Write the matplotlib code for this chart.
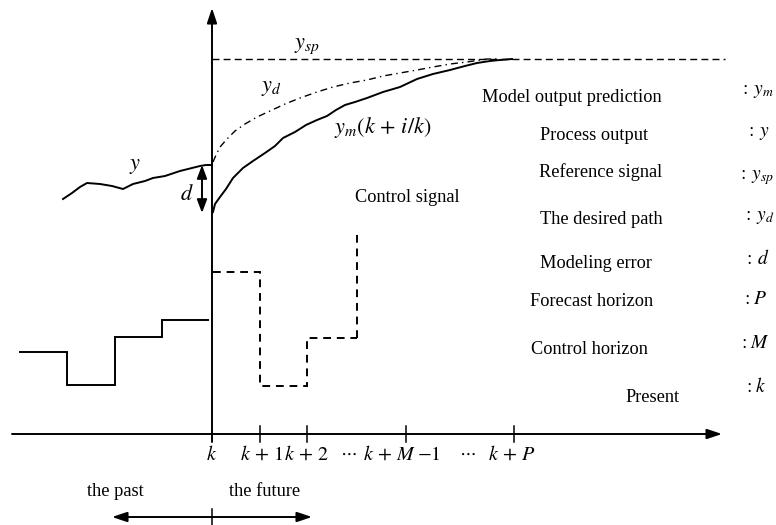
import matplotlib
matplotlib.use("Agg")
import matplotlib.pyplot as plt

plt.rcParams["font.family"] = ["Liberation Serif", "DejaVu Serif"]
plt.rcParams["mathtext.fontset"] = "stix"

# ---- time axis (k = present instant) ----
k_pos = 212
axis_y = 434
tick_x = [212, 260, 307, 406, 514]
tick_labels = [r"$k$", r"$k\,+\,1$", r"$k\,+\,2$", r"$k\,+\,M\;{-}1$", r"$k\,+\,P$"]
tick_label_x = [212, 262, 306, 402, 512]
ellipsis_x = [348, 467]

# ---- past process output y ----
past_x = [63, 72, 80, 87, 100, 112, 123, 133, 145, 153, 165, 180, 192, 200, 206, 212]
past_y = [199, 193, 187, 183, 184, 186, 189, 184, 181, 178, 176, 171, 168, 166, 165, 165]

# ---- predicted model output y_m(k+i/k) ----
ym_x = [213, 215, 220, 226, 233, 243, 253, 265, 275, 283, 295, 306, 317, 327, 336,
        345, 355, 367, 383, 400, 417, 433, 450, 465, 477, 490, 500, 512]
ym_y = [212, 204, 197, 189, 178, 168, 161, 153, 146, 138, 132, 125, 120, 116, 110,
        105, 102, 98, 92, 87, 79, 74, 70, 66, 63, 61, 60, 59]

# ---- desired path y_d ----
yd_x = [213, 216, 220, 227, 235, 245, 257, 270, 285, 300, 317, 333, 350, 367, 383,
        400, 417, 433, 450, 467, 487, 500]
yd_y = [162, 155, 147, 139, 131, 124, 117, 111, 104, 98, 92, 87, 83, 80, 76,
        73, 70, 67, 64, 62, 59, 59]

# ---- set point y_sp ----
ysp_level = 59
ysp_end = 725

# ---- modelling error d ----
d_x = 202
d_top, d_bottom = 165, 213

# ---- control signal: past (applied) and future (planned) moves ----
past_u_edges = [19, 67, 115, 162, 209]
past_u = [352, 385, 337, 320]
future_u_edges = [213, 260, 307, 357]
future_u = [272, 386, 338]
future_u_last = 233

# ---- legend of symbols ----
legend_names = ["Model output prediction", "Process output", "Reference signal",
                "The desired path", "Modeling error", "Forecast horizon",
                "Control horizon", "Present"]
legend_name_x = [572, 594, 601, 601, 596, 592, 589, 652]
legend_name_y = [97, 135, 172, 220, 263, 302, 350, 398]
legend_syms = [r"${:}\,y_m$", r"${:}\,y$", r"${:}\,y_{sp}$", r"${:}\,y_d$", r"${:}\,d$",
               r"${:}P$", r"${:}M$", r"${:}k$"]
legend_sym_right = [774, 770, 774, 774, 770, 767, 769, 766]
legend_sym_y = [92, 134, 178, 218, 258, 299, 344, 387]

fig = plt.figure(figsize=(7.76, 5.25), dpi=100)
ax = fig.add_axes([0, 0, 1, 1])
ax.set_xlim(0, 776)
ax.set_ylim(525, 0)
ax.axis("off")

lw = 1.4
arrow_kw = dict(arrowstyle="-|>,head_length=0.9,head_width=0.3", lw=lw, color="k",
                shrinkA=0, shrinkB=0)

# axes
ax.annotate("", xy=(722, axis_y), xytext=(12, axis_y), arrowprops=arrow_kw)
ax.annotate("", xy=(k_pos, 8), xytext=(k_pos, axis_y + 8), arrowprops=arrow_kw)
for tx in tick_x[1:]:
    ax.plot([tx, tx], [axis_y - 8, axis_y + 8], color="k", lw=1.1)
for lx, lab in zip(tick_label_x, tick_labels):
    ax.text(lx, 455, lab, ha="center", va="center", fontsize=14.5)
for ex in ellipsis_x:
    ax.text(ex, 453, r"$\cdots$", ha="center", va="center", fontsize=13)

# curves
ax.plot(past_x, past_y, color="k", lw=lw)
ax.plot(ym_x, ym_y, color="k", lw=lw)
ax.plot(yd_x, yd_y, color="k", lw=1.0, linestyle=(0, (5, 3, 1, 3)))
ax.plot([k_pos, ysp_end], [ysp_level, ysp_level], color="k", lw=1.0,
        linestyle=(0, (5, 3)))

# modelling error arrow
ax.annotate("", xy=(d_x, d_top), xytext=(d_x, d_bottom),
            arrowprops=dict(arrowstyle="<|-|>,head_length=0.8,head_width=0.3",
                            lw=lw, color="k", shrinkA=0, shrinkB=0))

# control signal
ax.stairs(past_u, past_u_edges, baseline=None, color="k", lw=lw)
ax.stairs(future_u, future_u_edges, baseline=None, color="k", lw=lw,
          linestyle=(0, (4, 3)))
ax.plot([future_u_edges[-1]] * 2, [future_u[-1], future_u_last], color="k", lw=lw,
        linestyle=(0, (4, 3)))

# curve labels
ax.text(307, 46, r"$y_{sp}$", ha="center", va="center", fontsize=16)
ax.text(271, 88, r"$y_d$", ha="center", va="center", fontsize=16)
ax.text(334, 127, r"$y_m\left(k\,+\,i/k\right)$", ha="left", va="center", fontsize=16)
ax.text(135, 166, r"$y$", ha="center", va="center", fontsize=16)
ax.text(187, 195, r"$d$", ha="center", va="center", fontsize=16)
ax.text(407, 198, "Control signal", ha="center", va="center", fontsize=13.2)

# symbol legend
for nx, ny, name in zip(legend_name_x, legend_name_y, legend_names):
    ax.text(nx, ny, name, ha="center", va="center", fontsize=13.2)
for sx, sy, sym in zip(legend_sym_right, legend_sym_y, legend_syms):
    ax.text(sx, sy, sym, ha="right", va="center", fontsize=14)

# past / future
ax.text(115, 492, "the past", ha="center", va="center", fontsize=13.2)
ax.text(265, 492, "the future", ha="center", va="center", fontsize=13.2)
ax.annotate("", xy=(112, 517), xytext=(k_pos, 517), arrowprops=arrow_kw)
ax.annotate("", xy=(312, 517), xytext=(k_pos, 517), arrowprops=arrow_kw)
ax.plot([k_pos, k_pos], [509, 525], color="k", lw=1.1)

fig.savefig("out.png", dpi=100)
